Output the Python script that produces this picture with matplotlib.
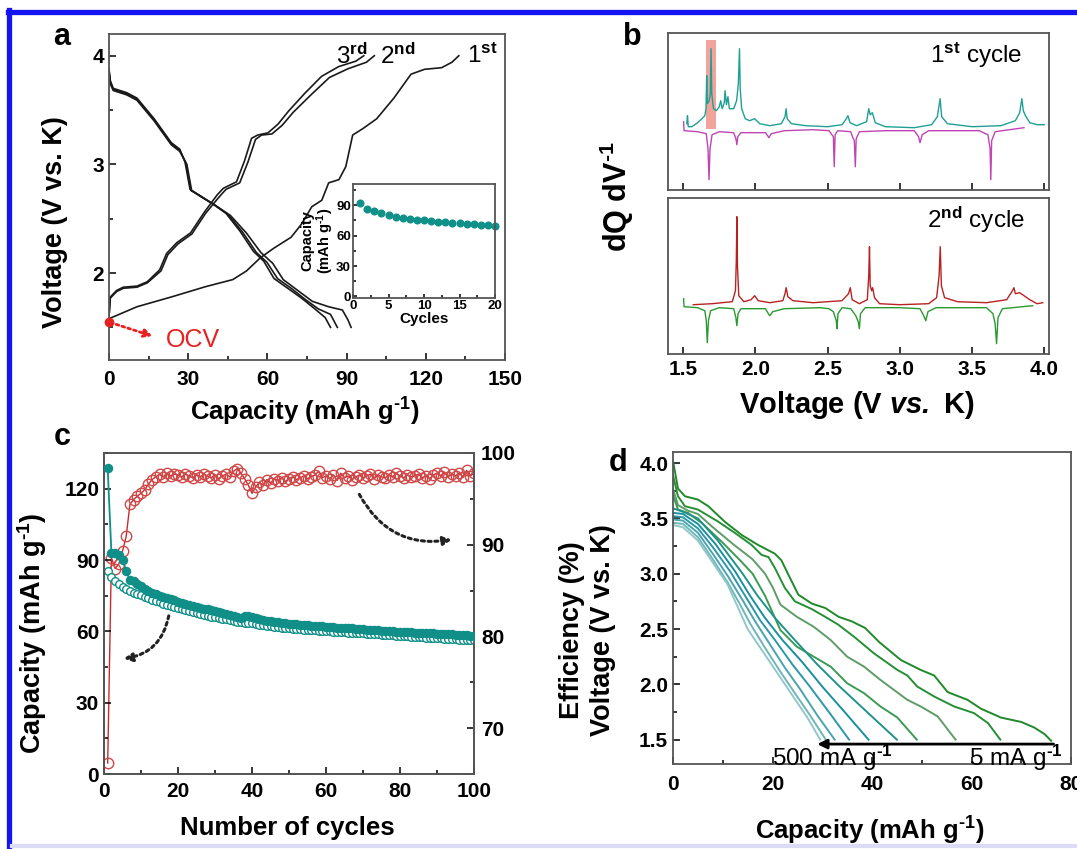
import matplotlib
matplotlib.use("Agg")
import matplotlib.pyplot as plt
from matplotlib.ticker import MultipleLocator, NullLocator, FormatStrFormatter
from matplotlib.patches import Rectangle
from matplotlib.lines import Line2D

plt.rcParams['font.family'] = ['Liberation Sans', 'DejaVu Sans']
plt.rcParams['font.weight'] = 'bold'
plt.rcParams['axes.labelweight'] = 'bold'
plt.rcParams['mathtext.fontset'] = 'custom'
plt.rcParams['mathtext.rm'] = 'Liberation Sans'
plt.rcParams['mathtext.it'] = 'Liberation Sans:italic'
plt.rcParams['mathtext.bf'] = 'Liberation Sans:bold'
plt.rcParams['mathtext.bfit'] = 'Liberation Sans:italic:bold'

# ---------------- DATA ----------------
# panel a: galvanostatic curves (capacity mAh/g, voltage V)
ch1_cap = [0, 10.6, 23.6, 36.6, 46.9, 52.1, 57.3, 62.5, 69.0, 72.9, 76.8, 80.6, 83.2, 87.1, 89.7, 92.3,
           96.2, 101.4, 107.9, 114.4, 119.5, 126.0, 129.9, 132.5]
ch1_v = [1.58, 1.69, 1.78, 1.875, 1.94, 2.02, 2.14, 2.23, 2.33, 2.45, 2.61, 2.67, 2.83, 2.86, 2.98, 3.27,
         3.33, 3.42, 3.61, 3.83, 3.875, 3.89, 3.94, 4.0]
ch2_cap = [0, 0.5, 2.9, 5.4, 10.6, 14.5, 19.7, 22.3, 26.2, 31.4, 36.6, 41.7, 44.3, 49.5, 52.6, 55.5,
           57.8, 61.7, 65.6, 69.8, 76.5, 83.5, 90.5, 97.5, 100.5]
ch2_v = [1.60, 1.77, 1.83, 1.86, 1.87, 1.91, 2.02, 2.17, 2.27, 2.36, 2.55, 2.70, 2.77, 2.83, 3.02, 3.23,
         3.27, 3.28, 3.36, 3.48, 3.64, 3.80, 3.88, 3.94, 4.0]
ch3_cap = [0, 0.5, 2.9, 5.4, 10.6, 14.5, 19.2, 21.8, 25.7, 30.9, 36.1, 41.0, 43.3, 48.3, 51.3, 54.0,
           56.3, 60.2, 64.0, 68.0, 74.0, 80.5, 87.0, 93.5, 96.5]
ch3_v = [1.60, 1.78, 1.84, 1.87, 1.88, 1.92, 2.03, 2.18, 2.28, 2.37, 2.56, 2.72, 2.78, 2.84, 3.03, 3.24,
         3.27, 3.29, 3.37, 3.49, 3.65, 3.81, 3.90, 3.95, 4.0]
dis1_cap = [0, 0.5, 1.6, 6.7, 10.6, 17.1, 23.6, 26.8, 29.5, 31.3, 35.0, 40.5, 46.0, 52.0, 57.5, 62.0,
            66.0, 71.5, 77.0, 83.2, 88.4, 90.5, 91.7]
dis1_v = [3.84, 3.74, 3.68, 3.64, 3.59, 3.40, 3.18, 3.12, 3.00, 2.76, 2.70, 2.62, 2.53, 2.37, 2.19, 2.09,
          1.94, 1.84, 1.74, 1.69, 1.66, 1.57, 1.50]
dis2_cap = [0, 0.5, 1.6, 6.7, 10.6, 17.1, 23.6, 26.8, 29.2, 31.0, 34.5, 39.7, 45.0, 50.5, 55.8, 59.8,
            63.8, 69.0, 74.2, 79.3, 83.9, 86.5]
dis2_v = [3.86, 3.76, 3.69, 3.65, 3.60, 3.41, 3.19, 3.13, 3.01, 2.76, 2.71, 2.63, 2.54, 2.38, 2.19, 2.10,
          1.95, 1.86, 1.76, 1.67, 1.62, 1.50]
dis3_cap = [0, 0.5, 1.6, 6.7, 10.6, 17.1, 23.6, 26.8, 28.8, 30.7, 34.0, 39.2, 44.3, 49.5, 54.7, 58.6,
            62.5, 67.7, 72.9, 78.0, 81.9, 83.9]
dis3_v = [3.88, 3.77, 3.70, 3.66, 3.61, 3.42, 3.20, 3.14, 3.02, 2.77, 2.72, 2.64, 2.55, 2.39, 2.20, 2.11,
          1.95, 1.86, 1.77, 1.67, 1.59, 1.50]
ocv_v = 1.55
inset_cycles = list(range(1, 21))
inset_cap = [92.3, 86.8, 84.2, 82.0, 80.3, 78.8, 77.7, 76.7, 75.8, 75.0, 74.3, 73.7, 73.1, 72.6, 72.1,
             71.6, 71.1, 70.6, 70.1, 69.7]

# panel b: dQ/dV (arbitrary units)
b1c_v = [1.525, 1.53, 1.535, 1.56, 1.60, 1.63, 1.65, 1.658, 1.663, 1.668, 1.68, 1.688, 1.693, 1.698, 1.71,
         1.73, 1.75, 1.76, 1.77, 1.785, 1.79, 1.80, 1.81, 1.82, 1.85, 1.87, 1.882, 1.89, 1.895, 1.905,
         1.93, 1.96, 1.995, 2.03, 2.10, 2.18, 2.205, 2.213, 2.22, 2.25, 2.35, 2.50, 2.60, 2.63, 2.641,
         2.655, 2.70, 2.77, 2.785, 2.795, 2.81, 2.83, 2.90, 3.10, 3.22, 3.26, 3.279, 3.29, 3.33, 3.50,
         3.70, 3.80, 3.83, 3.845, 3.855, 3.87, 3.90, 3.95, 4.0]
b1c_i = [0.5, 1.3, 0.2, 0.2, 0.6, 1.0, 1.3, 2.0, 5.3, 2.5, 2.8, 3.5, 8.0, 3.5, 2.0,
         1.8, 2.2, 2.8, 2.0, 2.6, 3.8, 2.4, 3.2, 2.0, 2.0, 2.8, 4.5, 8.0, 4.0, 2.0,
         1.0, 0.8, 1.0, 0.5, 0.3, 0.5, 1.2, 2.0, 1.0, 0.5, 0.3, 0.2, 0.4, 1.0, 1.3,
         0.6, 0.3, 0.7, 2.0, 1.4, 1.6, 0.6, 0.2, 0.1, 0.4, 1.2, 3.0, 1.2, 0.5, 0.2,
         0.3, 0.8, 1.6, 3.0, 1.8, 1.3, 0.6, 0.4, 0.4]
b1d_v = [1.503, 1.506, 1.60, 1.66, 1.672, 1.679, 1.686, 1.70, 1.75, 1.85, 1.865, 1.872, 1.878, 1.90,
         2.07, 2.085, 2.093, 2.11, 2.20, 2.40, 2.51, 2.525, 2.54, 2.546, 2.552, 2.57, 2.66, 2.675, 2.685,
         2.692, 2.698, 2.72, 2.90, 3.10, 3.13, 3.14, 3.155, 3.20, 3.55, 3.61, 3.625, 3.63, 3.636, 3.66, 3.86]
b1d_i = [0.7, -0.2, -0.3, -0.5, -2.0, -5.1, -2.0, -0.6, -0.3, -0.4, -1.0, -1.6, -0.8, -0.4,
         -0.4, -0.7, -0.9, -0.5, -0.2, -0.1, -0.2, -0.5, -0.8, -3.8, -0.6, -0.2, -0.3, -0.9, -1.2,
         -3.8, -1.0, -0.3, -0.2, -0.2, -0.8, -1.4, -0.6, -0.2, -0.2, -0.6, -2.0, -5.1, -1.2, -0.3, 0.1]
b2c_v = [1.57, 1.70, 1.84, 1.862, 1.868, 1.872, 1.876, 1.885, 1.92, 1.97, 1.995, 2.02, 2.10, 2.19, 2.205,
         2.213, 2.225, 2.26, 2.40, 2.60, 2.645, 2.657, 2.67, 2.72, 2.775, 2.785, 2.79, 2.795, 2.805,
         2.812, 2.825, 2.86, 3.00, 3.20, 3.255, 3.272, 3.28, 3.288, 3.31, 3.40, 3.60, 3.74, 3.78, 3.79,
         3.80, 3.83, 3.86, 3.90, 3.95, 3.99]
b2c_i = [0.1, 0.2, 0.4, 1.5, 4.5, 8.9, 4.0, 1.0, 0.4, 0.6, 1.0, 0.5, 0.3, 0.5, 1.2,
         1.8, 0.9, 0.5, 0.3, 0.5, 1.2, 1.8, 0.6, 0.2, 0.6, 3.0, 5.9, 2.0, 1.5,
         1.8, 0.8, 0.2, 0.1, 0.2, 0.8, 3.0, 5.9, 2.0, 0.8, 0.4, 0.3, 0.6, 1.5, 1.8,
         1.2, 1.3, 1.0, 0.6, 0.2, 0.3]
b2d_v = [1.503, 1.506, 1.60, 1.65, 1.66, 1.667, 1.675, 1.69, 1.75, 1.85, 1.865, 1.872, 1.88, 1.90,
         2.07, 2.09, 2.10, 2.12, 2.20, 2.45, 2.51, 2.54, 2.56, 2.565, 2.572, 2.60, 2.66, 2.685, 2.695,
         2.712, 2.72, 2.728, 2.76, 3.00, 3.14, 3.165, 3.18, 3.195, 3.25, 3.60, 3.645, 3.66, 3.67, 3.68,
         3.71, 3.92]
b2d_i = [0.7, -0.1, -0.2, -0.5, -1.5, -3.7, -1.5, -0.5, -0.2, -0.3, -1.2, -2.0, -0.8, -0.3,
         -0.3, -0.8, -1.0, -0.6, -0.3, -0.2, -0.3, -0.6, -1.5, -2.3, -0.8, -0.2, -0.3, -0.8, -1.0,
         -1.6, -2.3, -0.8, -0.2, -0.2, -0.3, -1.0, -1.5, -0.6, -0.2, -0.2, -0.8, -1.8, -3.8, -1.2,
         -0.3, 0.0]
highlight_v = [1.655, 1.728]

# panel c: cycling
cycles = list(range(1, 101))
cap_dis = [128.5, 93.0, 93.0, 92.0, 90.0, 85.5, 81.5, 81.0, 80.0, 79.0,
           78.0, 77.0, 76.0, 75.5, 75.0, 74.5, 74.0, 73.5, 73.0, 72.5,
           72.0, 71.5, 71.0, 70.7, 70.3, 70.0, 69.6, 69.3, 69.0, 68.6,
           68.2, 67.8, 67.4, 67.0, 66.6, 66.0, 65.8, 66.3, 66.6, 66.2,
           65.4, 65.0, 64.7, 64.4, 64.2, 64.0, 63.8, 63.6, 63.4, 63.2,
           63.0, 62.9, 62.8, 62.6, 62.5, 62.4, 62.3, 62.2, 62.2, 62.0,
           61.9, 61.8, 61.6, 61.5, 61.4, 61.3, 61.2, 61.0, 60.9, 60.8,
           60.7, 60.6, 60.5, 60.4, 60.3, 60.2, 60.1, 60.0, 59.9, 59.8,
           59.7, 59.7, 59.6, 59.5, 59.4, 59.3, 59.3, 59.2, 59.1, 59.0,
           59.0, 58.9, 58.8, 58.7, 58.6, 58.5, 58.4, 58.3, 58.2, 58.0]
cap_chg = [85.5, 83.0, 81.0, 80.0, 78.5, 77.8, 77.0, 76.3, 75.7, 75.1,
           74.5, 73.9, 73.3, 72.8, 72.2, 71.7, 71.2, 70.7, 70.2, 69.7,
           69.3, 68.9, 68.5, 68.1, 67.7, 67.3, 66.9, 66.6, 66.2, 65.9,
           65.6, 65.3, 65.0, 64.7, 64.4, 64.1, 63.9, 63.7, 63.5, 63.3,
           63.0, 62.7, 62.5, 62.3, 62.1, 61.9, 61.7, 61.5, 61.4, 61.2,
           61.1, 61.0, 60.9, 60.7, 60.6, 60.5, 60.4, 60.3, 60.2, 60.1,
           60.0, 59.9, 59.8, 59.7, 59.6, 59.5, 59.4, 59.3, 59.2, 59.1,
           59.0, 58.9, 58.8, 58.7, 58.6, 58.5, 58.4, 58.3, 58.2, 58.1,
           58.0, 57.9, 57.8, 57.7, 57.6, 57.5, 57.4, 57.3, 57.2, 57.1,
           57.0, 56.9, 56.8, 56.7, 56.6, 56.5, 56.4, 56.3, 56.3, 56.2]
eff = [66.2, 88.6, 87.4, 87.9, 89.3, 90.9, 94.4, 94.9, 95.3, 95.6,
       96.0, 96.6, 97.1, 97.4, 97.7, 97.4, 97.8, 97.5, 97.7, 97.6,
       97.4, 97.7, 97.5, 97.3, 97.6, 97.4, 97.7, 97.5, 97.3, 97.6,
       97.2, 97.5, 97.7, 97.4, 98.0, 98.3, 97.8, 97.2, 96.5, 95.6,
       96.3, 96.8, 96.5, 97.1, 96.7, 97.2, 97.0, 97.3, 96.9, 97.2,
       97.4, 97.1, 97.3, 97.5, 97.2, 97.4, 97.6, 98.0, 97.3, 97.5,
       97.2, 97.6, 97.0, 97.8, 97.3, 97.5, 97.1, 97.4, 97.6, 97.3,
       97.5, 97.7, 97.2, 97.6, 97.4, 97.3, 97.6, 97.4, 97.8, 97.5,
       97.3, 97.6, 97.4, 97.5, 97.7, 97.3, 97.5, 97.2, 97.6, 97.8,
       97.5, 97.9, 97.4, 97.7, 97.5, 97.8, 97.4, 98.1, 97.5, 97.8]

# panel d: rate discharge curves (5 mA/g ... 500 mA/g)
d_caps = [
    [0, 1, 2.4, 5, 7.1, 10.4, 13.8, 17.1, 20.5, 21.8, 23.2, 25.2, 27.9, 30.6, 33.3, 35.9, 38.6, 41.5,
     45.8, 49.8, 52.5, 55.2, 59.2, 61.9, 65.9, 70, 72.6, 74.7, 76],
    [0, 1, 2.4, 5, 9.1, 12.4, 15.8, 17.8, 19.2, 20.5, 22.5, 24.5, 27.9, 30.6, 33.2, 36.4, 40.4, 45.1,
     47.1, 49.1, 52.5, 56.5, 60.5, 63.3, 65.8],
    [0, 1, 3, 5, 8, 12, 16, 18.5, 20, 21.6, 24.9, 28.3, 31.7, 35, 38.4, 41.7, 44.4, 47.1, 49.8, 53.2, 56.8],
    [0, 1, 3, 6, 10, 13.5, 16, 18.5, 21.6, 24.9, 28.3, 31.7, 35, 38.4, 41.7, 45.1, 49],
    [0, 2, 5, 9, 14, 17, 20.5, 24.5, 29, 33.5, 39, 45],
    [0, 2, 5, 8.5, 12.5, 15.5, 18.5, 22, 26, 30, 34.5, 39.3],
    [0, 2, 5, 8, 11.5, 14.5, 17.5, 20.5, 24, 27.5, 31.5, 35.4],
    [0, 2, 5, 8, 11, 14, 16.5, 19.5, 22.5, 25.5, 29, 32.5],
    [0, 2, 5, 8, 11, 13.5, 15.5, 18.5, 21.5, 24.5, 27.7, 30.7],
    [0, 2, 5, 8, 11, 13, 15, 18, 21, 24, 27, 29.6],
]
d_volts = [
    [4.02, 3.77, 3.70, 3.67, 3.61, 3.47, 3.35, 3.26, 3.18, 3.12, 2.99, 2.81, 2.73, 2.69, 2.61, 2.57, 2.51,
     2.38, 2.22, 2.13, 2.08, 1.93, 1.86, 1.78, 1.70, 1.66, 1.61, 1.55, 1.49],
    [3.89, 3.70, 3.61, 3.58, 3.47, 3.37, 3.26, 3.17, 3.15, 3.05, 2.87, 2.75, 2.68, 2.61, 2.54, 2.43, 2.28,
     2.13, 2.08, 1.98, 1.89, 1.80, 1.74, 1.65, 1.50],
    [3.77, 3.62, 3.57, 3.54, 3.42, 3.27, 3.13, 3.00, 2.88, 2.72, 2.61, 2.52, 2.40, 2.25, 2.16, 2.04, 1.95,
     1.86, 1.80, 1.71, 1.50],
    [3.71, 3.58, 3.55, 3.45, 3.28, 3.12, 3.00, 2.80, 2.49, 2.34, 2.25, 2.16, 2.01, 1.92, 1.80, 1.70, 1.50],
    [3.59, 3.56, 3.50, 3.30, 3.00, 2.80, 2.60, 2.40, 2.18, 1.98, 1.75, 1.50],
    [3.55, 3.54, 3.45, 3.27, 3.02, 2.80, 2.60, 2.40, 2.20, 1.98, 1.75, 1.50],
    [3.52, 3.51, 3.41, 3.24, 3.02, 2.80, 2.58, 2.40, 2.18, 1.98, 1.74, 1.50],
    [3.49, 3.48, 3.37, 3.18, 2.98, 2.76, 2.57, 2.36, 2.15, 1.96, 1.72, 1.50],
    [3.46, 3.45, 3.33, 3.13, 2.92, 2.72, 2.55, 2.33, 2.12, 1.92, 1.71, 1.50],
    [3.44, 3.42, 3.30, 3.10, 2.90, 2.70, 2.50, 2.30, 2.10, 1.90, 1.70, 1.50],
]
d_colors = ['#1f8a2a', '#248f35', '#5e9c68', '#3d9a55', '#21928a', '#1a8fa0', '#2d97a8', '#4aa4b0',
            '#6fb5ba', '#93c8c8']

# ---------------- FIGURE ----------------
W, H = 1077, 849
fig = plt.figure(figsize=(W / 100, H / 100), dpi=100)


def rect(l, t, r, b):
    return [l / W, 1 - b / H, (r - l) / W, (b - t) / H]


def ftext(x, y, s, **kw):
    return fig.text(x / W, 1 - y / H, s, **kw)


SP = '#555555'
TICK_FS = 15
LAB_FS = 18.5
VLAB_FS = 19.5
HY = '\u2010'  # short hyphen for superscript "-1"
INV = r'$^{\mathbf{' + HY + '1}}$'
INV_N = r'$^{\mathrm{' + HY + '1}}$'


def style(ax, fs=TICK_FS, xpad=6):
    for s in ax.spines.values():
        s.set_color(SP)
        s.set_linewidth(1.3)
    ax.tick_params(which='both', direction='in', colors='black', labelsize=fs, width=1.1)
    ax.tick_params(which='major', length=5)
    ax.tick_params(which='minor', length=3)
    ax.tick_params(axis='x', pad=xpad)
    for t in ax.get_xticklabels() + ax.get_yticklabels():
        t.set_fontweight('bold')


# ---- panel a ----
axa = fig.add_axes(rect(109, 34, 505, 360))
for c_, v_ in [(ch1_cap, ch1_v), (ch2_cap, ch2_v), (ch3_cap, ch3_v),
               (dis1_cap, dis1_v), (dis2_cap, dis2_v), (dis3_cap, dis3_v)]:
    axa.plot(c_, v_, color='#1a1a1a', lw=1.2)
axa.set_xlim(0, 150)
axa.set_ylim(1.2, 4.2)
axa.xaxis.set_major_locator(MultipleLocator(30))
axa.xaxis.set_minor_locator(MultipleLocator(15))
axa.yaxis.set_major_locator(MultipleLocator(1))
axa.yaxis.set_minor_locator(MultipleLocator(0.5))
style(axa, xpad=7)
axa.plot([0], [ocv_v], 'o', color='#e82020', ms=6, clip_on=False, zorder=5)
axa.annotate('', xy=(16.5, 1.42), xytext=(0.5, 1.545),
             arrowprops=dict(arrowstyle='-|>', color='#e82020', linestyle=(0, (1, 1.2)), lw=2,
                             mutation_scale=12, shrinkA=0, shrinkB=0))
axa.text(21.5, 1.38, 'OCV', color='#e82020', fontsize=18, fontweight='normal', va='center', ha='left')
axa.text(86, 4.0, r'3$^{\mathrm{rd}}$', fontsize=17.5, fontweight='normal', va='center', ha='left')
axa.text(102.5, 4.0, r'2$^{\mathrm{nd}}$', fontsize=17.5, fontweight='normal', va='center', ha='left')
axa.text(135.5, 4.0, r'1$^{\mathrm{st}}$', fontsize=17.5, fontweight='normal', va='center', ha='left')

axi = fig.add_axes(rect(353, 184, 495, 298))
axi.plot(inset_cycles, inset_cap, 'o', color='#0f9088', ms=4.8, clip_on=False)
axi.set_xlim(0, 20)
axi.set_ylim(-1.6, 111)
axi.xaxis.set_major_locator(MultipleLocator(5))
axi.xaxis.set_minor_locator(MultipleLocator(2.5))
axi.yaxis.set_major_locator(MultipleLocator(30))
axi.yaxis.set_minor_locator(MultipleLocator(15))
style(axi, fs=9.5, xpad=1.5)
axi.tick_params(which='major', length=3)
axi.tick_params(axis='y', pad=1.5)
axi.tick_params(which='minor', length=2)
axi.set_xlabel('Cycles', fontsize=11, labelpad=0)
axi.set_ylabel('Capacity\n(mAh g' + INV + ')', fontsize=10.5, labelpad=0, linespacing=1.0)

ftext(62, 37, 'a', fontsize=22, ha='center', va='center')
ftext(305, 412, 'Capacity (mAh g' + INV + ')', fontsize=LAB_FS, ha='center', va='center')
ftext(55, 222, 'Voltage (V vs. K)', fontsize=VLAB_FS, ha='center', va='center', rotation=90)

# ---- panel b ----
axb1 = fig.add_axes(rect(668, 33, 1049, 190))
axb2 = fig.add_axes(rect(668, 198, 1049, 354))
axb1.add_patch(Rectangle((highlight_v[0], 0.0), highlight_v[1] - highlight_v[0], 8.9,
                         color='#f2a49c', lw=0, zorder=0))
axb1.plot(b1c_v, b1c_i, color='#1fa094', lw=1.0)
axb1.plot(b1d_v, b1d_i, color='#c044b4', lw=1.0)
axb2.plot(b2c_v, b2c_i, color='#b82222', lw=1.0)
axb2.plot(b2d_v, b2d_i, color='#2a9a30', lw=1.0)
axb1.set_ylim(-6.13, 9.57)
axb2.set_ylim(-4.83, 10.77)
for ax in (axb1, axb2):
    ax.set_xlim(1.395, 4.033)
    ax.xaxis.set_major_locator(MultipleLocator(0.5))
    ax.yaxis.set_major_locator(NullLocator())
    style(ax, xpad=4)
axb1.set_xticklabels([])
axb1.text(0.808, 0.86, r'1$^{\mathrm{st}}$ cycle', transform=axb1.transAxes, fontsize=17.5,
          fontweight='normal', ha='center', va='center')
axb2.text(0.808, 0.86, r'2$^{\mathrm{nd}}$ cycle', transform=axb2.transAxes, fontsize=17.5,
          fontweight='normal', ha='center', va='center')
ftext(632, 37, 'b', fontsize=22, ha='center', va='center')
ftext(857, 405, r'Voltage (V $\mathbfit{vs.}$ K)', fontsize=21, ha='center', va='center')
ftext(617, 197, 'dQ dV' + INV, fontsize=22, ha='center', va='center', rotation=90)

# ---- panel c ----
axc = fig.add_axes(rect(104, 453, 474, 774))
axc2 = axc.twinx()
TEAL = '#0f8f87'
axc.plot(cycles, cap_dis, '-o', color=TEAL, ms=5.8, lw=1.3, zorder=3)
axc.plot(cycles, cap_chg, 'o', mfc='white', mec=TEAL, ms=5.5, mew=1.0, zorder=2)
axc2.plot(cycles, eff, '-o', color='#cc2a2a', mfc='none', mec='#d04848', ms=7.5, mew=1.0, lw=1.0,
          zorder=4)
axc.set_xlim(0, 100)
axc.set_ylim(0, 135)
axc2.set_ylim(65, 100)
axc.xaxis.set_major_locator(MultipleLocator(20))
axc.xaxis.set_minor_locator(MultipleLocator(10))
axc.yaxis.set_major_locator(MultipleLocator(30))
axc.yaxis.set_minor_locator(MultipleLocator(15))
axc2.yaxis.set_major_locator(MultipleLocator(10))
axc2.yaxis.set_minor_locator(MultipleLocator(5))
style(axc, xpad=6)
style(axc2)
axc2.tick_params(axis='y', pad=5)
axc.set_zorder(axc2.get_zorder() + 1)
axc.patch.set_visible(False)
axc.annotate('', xy=(5.3, 48.5), xytext=(17.5, 66.5),
             arrowprops=dict(arrowstyle='-|>', color='#222222', linestyle=(0, (1, 1.2)), lw=2.2,
                             mutation_scale=12, shrinkA=0, shrinkB=0,
                             connectionstyle='arc3,rad=-0.35'))
axc.annotate('', xy=(94, 98.6), xytext=(69, 117.6),
             arrowprops=dict(arrowstyle='-|>', color='#222222', linestyle=(0, (1, 1.2)), lw=2.2,
                             mutation_scale=12, shrinkA=0, shrinkB=0,
                             connectionstyle='arc3,rad=0.35'))
ftext(62, 437, 'c', fontsize=22, ha='center', va='center')
ftext(287, 828, 'Number of cycles', fontsize=LAB_FS, ha='center', va='center')
ftext(32, 633, 'Capacity (mAh g' + INV + ')', fontsize=VLAB_FS, ha='center', va='center', rotation=90)
ftext(572, 630, 'Efficiency (%)', fontsize=VLAB_FS, ha='center', va='center', rotation=90)

# ---- panel d ----
axd = fig.add_axes(rect(673, 452, 1071, 764))
for c_, v_, col in zip(d_caps, d_volts, d_colors):
    axd.plot(c_, v_, color=col, lw=1.4)
axd.set_xlim(0, 80)
axd.set_ylim(1.28, 4.1)
axd.xaxis.set_major_locator(MultipleLocator(20))
axd.xaxis.set_minor_locator(MultipleLocator(10))
axd.yaxis.set_major_locator(MultipleLocator(0.5))
axd.yaxis.set_minor_locator(MultipleLocator(0.25))
style(axd, xpad=8)
axd.yaxis.set_major_formatter(FormatStrFormatter('%.1f'))
axd.annotate('', xy=(29, 1.46), xytext=(76.5, 1.46),
             arrowprops=dict(arrowstyle='-|>', color='black', lw=2, mutation_scale=14,
                             shrinkA=0, shrinkB=0))
axd.text(20, 1.335, '500 mA g' + INV_N, fontsize=17.5, fontweight='normal', ha='left', va='center')
axd.text(59.5, 1.335, '5 mA g' + INV_N, fontsize=17.5, fontweight='normal', ha='left', va='center')
ftext(618, 463, 'd', fontsize=22, ha='center', va='center')
ftext(603, 630, 'Voltage (V vs. K)', fontsize=VLAB_FS, ha='center', va='center', rotation=90)
ftext(870, 831, 'Capacity (mAh g' + INV + ')', fontsize=LAB_FS, ha='center', va='center')

# ---- blue frame ----
fig.add_artist(Line2D([8 / W, 1.0], [1 - 12 / H, 1 - 12 / H], color='#1414f0', lw=3.8,
                      transform=fig.transFigure))
fig.add_artist(Line2D([9 / W, 9 / W], [0.0, 1 - 10 / H], color='#1414f0', lw=3.8,
                      transform=fig.transFigure))
fig.add_artist(Line2D([12 / W, 1.0], [3 / H, 3 / H], color='#dcdcf8', lw=3,
                      transform=fig.transFigure))

fig.savefig('out.png', dpi=100)
